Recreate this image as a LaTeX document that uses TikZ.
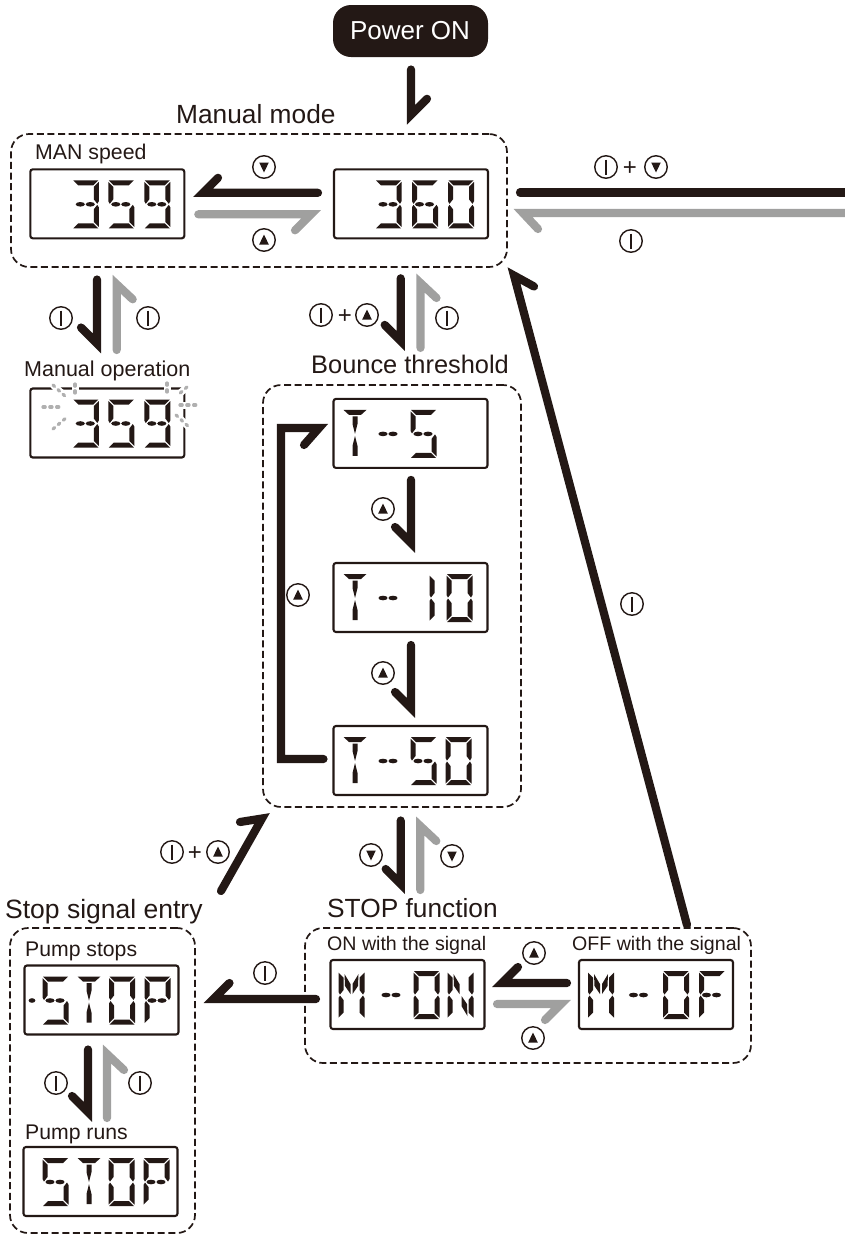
\documentclass[tikz,border=0pt]{standalone}
\usepackage{fontspec}
\setmainfont{Liberation Sans}
\usetikzlibrary{calc,shapes.geometric}
\definecolor{ink}{HTML}{231815}
\definecolor{greyarrow}{HTML}{A0A09F}
\definecolor{sparkgrey}{HTML}{B0B0B0}
\newcommand\fs[1]{\fontsize{#1}{#1}\selectfont}
\newcommand\segA{\fill[ink] (0.5,0)--(25.5,0)--(20.5,5)--(5.5,5)--cycle;}
\newcommand\segB{\fill[ink] (26,1.5)--(26,21)--(24.5,23.5)--(21,19)--(21,6.5)--cycle;}
\newcommand\segC{\fill[ink] (21,29)--(24.5,24.5)--(26,27)--(26,46.5)--(21,41.5)--cycle;}
\newcommand\segD{\fill[ink] (0.5,48)--(25.5,48)--(20.5,43)--(5.5,43)--cycle;}
\newcommand\segE{\fill[ink] (5,29)--(1.5,24.5)--(0,27)--(0,46.5)--(5,41.5)--cycle;}
\newcommand\segF{\fill[ink] (0,1.5)--(0,21)--(1.5,23.5)--(5,19)--(5,6.5)--cycle;}
\newcommand\segG{\fill[ink] (7.5,24) ellipse (4.6 and 2.3) (17.5,24) ellipse (4.6 and 2.3);}
\newcommand\segH{\fill[ink] (7.5,24) ellipse (3.4 and 2.3);}
\newcommand\segT{\fill[ink] (0,0)--(23,0)--(17.5,5)--(5.5,5)--cycle
  (9,6.5)--(14,6.5)--(14,14)--(11.5,24)--(9,14)--cycle
  (11.5,26)--(14,36)--(14,46)--(9,46)--(9,36)--cycle;}
\newcommand\segP{\fill[ink] (6,3)--(12,13)--(12,23)--(6.5,15)--cycle
  (20,3)--(14,13)--(14,23)--(19.5,15)--cycle;}
\newcommand\segN{\fill[ink] (6,3)--(12,13)--(12,23)--(6.5,15)--cycle
  (14,25)--(19.5,33)--(20,45)--(14,35)--cycle;}
\newcommand\dg[3]{\begin{scope}[shift={(#1.north west)},shift={(#2,11)}]
  \foreach \s in {#3}{\csname seg\s\endcsname}\end{scope}}
\newcommand\conn[4]{\draw[#1] #2 -- #3 -- ++(#4);}
\newcommand\icoI[3]{\node[ico] (#1) at (#2,#3) {};
  \draw[ink,line width=1.2pt] ($(#1)+(0,-7.5)$) -- ($(#1)+(0,7.5)$);}
\newcommand\icoU[3]{\node[ico] (#1) at (#2,#3) {};
  \fill[ink] ($(#1)+(0,-5.5)$) -- ($(#1)+(4.8,4.5)$) -- ($(#1)+(-4.8,4.5)$) -- cycle;}
\newcommand\icoD[3]{\node[ico] (#1) at (#2,#3) {};
  \fill[ink] ($(#1)+(0,5.5)$) -- ($(#1)+(4.8,-4.5)$) -- ($(#1)+(-4.8,-4.5)$) -- cycle;}
\newcommand\sparkline[2]{\draw[white,line width=7pt] (#1) -- (#2);
  \draw[sparkgrey,line width=3.2pt,line cap=round,dash pattern=on 2.2pt off 4.6pt] (#1) -- (#2);}
\begin{document}
\begin{tikzpicture}[x=1pt,y=-1pt,
  lcd/.style={draw=ink,line width=2.1pt,rounded corners=2.5pt,minimum width=154pt,minimum height=69pt,inner sep=0pt,outer sep=0pt,fill=white},
  group/.style={draw=ink,line width=1.7pt,rounded corners=18pt,dash pattern=on 7pt off 3.6pt,inner sep=0pt,outer sep=0pt},
  ico/.style={circle,draw=ink,line width=1.4pt,minimum size=22.5pt,inner sep=0pt,outer sep=0pt},
  blk/.style={draw=ink,line width=8.2pt,line cap=round,line join=miter},
  gry/.style={draw=greyarrow,line width=8.2pt,line cap=round,line join=miter},
  lab/.style={text=ink,inner sep=0pt,anchor=base west},
  plus/.style={text=ink,inner sep=0pt}]
\useasboundingbox (0,0) rectangle (844,1235);

% group frames
\node[group,minimum width=496pt,minimum height=133pt] (manual) at (259,200.5) {};
\node[group,minimum width=258pt,minimum height=422pt] (bounce) at (392,596) {};
\node[group,minimum width=446pt,minimum height=135pt] (stopfn) at (528,995.5) {};
\node[group,minimum width=185pt,minimum height=305pt] (stopsig) at (102.5,1080.5) {};

% power
\node[fill=ink,rounded corners=18pt,minimum width=155pt,minimum height=52pt,inner sep=0pt,outer sep=0pt] (pw) at (410.5,31) {};
\node[inner sep=0pt,anchor=base,text=white] (pwtext) at (410,39) {\fs{26}Power ON};

% displays
\node[lcd] (d359) at (107.3,203.8) {};
\node[lcd] (d360) at (411,203.8) {};
\node[lcd] (man) at (107.3,423) {};
\node[lcd] (T5) at (410.5,433.4) {};
\node[lcd] (T10) at (410.5,597.5) {};
\node[lcd] (T50) at (410.5,760.5) {};
\node[lcd] (on) at (407.5,994.5) {};
\node[lcd] (of) at (656,994.5) {};
\node[lcd] (stop) at (101.5,1000) {};
\node[lcd] (run) at (100.5,1181.5) {};

% digits
\dg{d359}{42.5}{A,B,G,C,D}\dg{d359}{78}{A,F,G,C,D}\dg{d359}{114}{A,B,F,G,C,D}
\dg{d360}{41.5}{A,B,G,C,D}\dg{d360}{78}{A,F,G,E,C,D}\dg{d360}{114}{A,B,C,D,E,F}
\dg{man}{42.5}{A,B,G,C,D}\dg{man}{78}{A,F,G,C,D}\dg{man}{114}{A,B,F,G,C,D}
\dg{T5}{10}{T}\dg{T5}{42}{G}\dg{T5}{77}{A,F,G,C,D}
\dg{T10}{10}{T}\dg{T10}{42}{G}\dg{T10}{96}{E,F}\dg{T10}{113}{A,B,C,D,E,F}
\dg{T50}{10}{T}\dg{T50}{42}{G}\dg{T50}{77}{A,F,G,C,D}\dg{T50}{112}{A,B,C,D,E,F}
\dg{on}{8}{E,F,B,C,P}\dg{on}{48}{G}\dg{on}{83}{A,B,C,D,E,F}\dg{on}{117}{E,F,B,C,N}
\dg{of}{9}{E,F,B,C,P}\dg{of}{47}{G}\dg{of}{84}{A,B,C,D,E,F}\dg{of}{120}{A,F,G,E}
\dg{stop}{18}{A,F,G,C,D}\dg{stop}{0}{H}\dg{stop}{53}{T}\dg{stop}{84.5}{A,B,C,D,E,F}\dg{stop}{120}{A,B,F,G,E}
\dg{run}{19}{A,F,G,C,D}\dg{run}{54}{T}\dg{run}{85}{A,B,C,D,E,F}\dg{run}{120}{A,B,F,G,E}

% sparks on the flashing display
\sparkline{53,385}{66,397}
\sparkline{75,384}{75,396}
\sparkline{43,407}{63,407}
\sparkline{53,429}{67,417}
\sparkline{167,383}{167,395}
\sparkline{187,387}{178,395}
\sparkline{180,405}{199,405}
\sparkline{176,415}{190,428}

% labels
\node[lab] (tmanual) at (176,123.5) {\fs{26.3}Manual mode};
\node[lab] (tman) at (35,159) {\fs{21.3}MAN speed};
\node[lab] (tmanop) at (24,376.7) {\fs{21.5}Manual operation};
\node[lab] (tbounce) at (311,373) {\fs{25.4}Bounce threshold};
\node[lab] (tstopfn) at (327,917) {\fs{26.3}STOP function};
\node[lab] (ton) at (327,950.7) {\fs{19.6}ON with the signal};
\node[lab] (toff) at (572,950.7) {\fs{19.6}OFF with the signal};
\node[lab] (tstopsig) at (5,918) {\fs{26.5}Stop signal entry};
\node[lab] (tps) at (25,956) {\fs{21.2}Pump stops};
\node[lab] (tpr) at (25,1139) {\fs{21.2}Pump runs};

% free ends at the picture's right edge
\coordinate (rb) at (850,192.5);
\coordinate (rg) at (850,213);

% connectors
\conn{blk}{($(pw.south)+(0.5,12.5)$)}{($(d360.north)+(0,-54.5)$)}{16,-16}
\conn{blk}{($(d360.west)+(-16,-11)$)}{($(d359.east)+(18.7,-11)$)}{15,-15}
\conn{gry}{($(d359.east)+(14,10.5)$)}{($(d360.west)+(-23,10.5)$)}{-16,16}
\draw[blk] ($(manual.east)+(13,-8)$) -- (rb);
\conn{gry}{(rg)}{($(manual.east)+(16,12.5)$)}{15,16}
\conn{blk}{($(d359.south)+(-10.3,41.2)$)}{($(man.north)+(-10.3,-45)$)}{-16,-16}
\conn{gry}{($(man.north)+(9.4,-38.5)$)}{($(d359.south)+(9.4,46)$)}{16,15}
\conn{blk}{($(d360.south)+(-10.3,40)$)}{($(T5.north)+(-9.8,-58)$)}{-16,-16}
\conn{gry}{($(T5.north)+(10,-51)$)}{($(d360.south)+(9.5,44.7)$)}{16,15}
\conn{blk}{($(T5.south)+(0.5,12)$)}{($(T10.north)+(0.5,-20)$)}{-16,-16}
\conn{blk}{($(T10.south)+(0.5,13)$)}{($(T50.north)+(0.5,-18)$)}{-16,-16}
\coordinate (loopS) at ($(T50.west)+(-10,-1.5)$);
\coordinate (loopV) at ($(T5.west)+(-14.5,-5.4)$);
\coordinate (loopX) at (281,600);
\draw[blk] (loopS) -- (loopS -| loopX) -- (loopV -| loopX) -- (loopV) -- ++(-15,17);
\conn{blk}{($(bounce.south)+(8.7,13.5)$)}{($(stopfn.north)+(-127.3,-44)$)}{-15,-15}
\conn{gry}{($(stopfn.north)+(-107.7,-38)$)}{($(bounce.south)+(28.3,19)$)}{16,15}
\conn{blk}{($(of.west)+(-12,-11.5)$)}{($(on.east)+(17.5,-11.5)$)}{16,-16}
\conn{gry}{($(on.east)+(12.5,9.5)$)}{($(of.west)+(-18,9.5)$)}{-16,16}
\conn{blk}{($(on.west)+(-14.5,4.5)$)}{($(stop.east)+(35,-1)$)}{16,-16}
\conn{blk}{($(stop.south)+(-13.5,15)$)}{($(run.north)+(-12.5,-35)$)}{-16,-16}
\conn{gry}{($(run.north)+(6.5,-29)$)}{($(stop.south)+(5.5,19.5)$)}{17,16}
\conn{blk}{($(stopfn.north)+(159,-3)$)}{($(manual.south)+(255,8.5)$)}{20,11}
\conn{blk}{($(stopsig.north)+(118.5,-37)$)}{($(bounce.south west)+(-1,11.5)$)}{-22,3.5}

% key icons
\icoD{k1}{264}{167}
\icoU{k2}{264}{240}
\icoI{k3}{606}{167}
\node[plus] (p1) at (630,168.5) {\fs{24}+};
\icoD{k4}{656}{167}
\icoI{k5}{631}{241}
\icoI{k6}{61}{318}
\icoI{k7}{148}{318}
\icoI{k8}{321}{315}
\node[plus] (p2) at (345,316.5) {\fs{24}+};
\icoU{k9}{367}{315}
\icoI{k10}{447}{318}
\icoU{k11}{383}{509}
\icoU{k12}{298}{595}
\icoU{k13}{383}{673}
\icoI{k14}{632}{604}
\icoI{k15}{172}{852}
\node[plus] (p3) at (195,853.5) {\fs{24}+};
\icoU{k16}{218}{852}
\icoD{k17}{371}{855}
\icoD{k18}{452}{856}
\icoU{k19}{534}{953}
\icoU{k20}{533}{1038}
\icoI{k21}{265}{973}
\icoI{k22}{56}{1083}
\icoI{k23}{140}{1083}
\end{tikzpicture}
\end{document}
